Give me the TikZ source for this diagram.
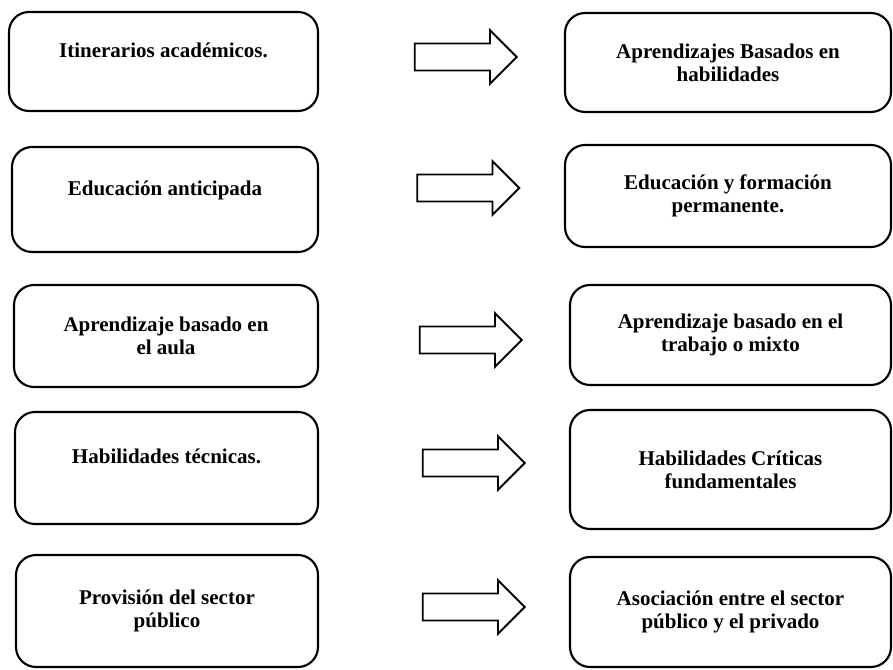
\documentclass[tikz,border=0pt]{standalone}
\usepackage{fontspec}
\setmainfont{Liberation Serif}
\usetikzlibrary{shapes.arrows}

\begin{document}
\begin{tikzpicture}[x=0.75pt,y=-0.75pt,
  box/.style={rectangle,rounded corners=15pt,draw,line width=1.6pt,align=center,inner sep=0pt,font=\fontsize{15.75pt}{17.25pt}\selectfont\bfseries},
  blockarrow/.style={single arrow,draw,line width=1.4pt,inner xsep=0pt,inner ysep=9.4pt,minimum height=76.5pt,single arrow head extend=10pt}]
  \useasboundingbox (0,0) rectangle (893,670);

  % left column
  \node[box,minimum width=231.75pt,minimum height=74.25pt] (iti) at (163.5,61.5) {Itinerarios académicos.\\ \mbox{}};
  \node[box,minimum width=229.5pt,minimum height=78.75pt] (edant) at (165,199.5) {Educación anticipada\\ \mbox{}};
  \node[box,minimum width=228pt,minimum height=76.5pt] (aula) at (166,336) {Aprendizaje basado en\\el aula};
  \node[box,minimum width=227.25pt,minimum height=84pt] (tec) at (166.5,468) {Habilidades técnicas.\\ \mbox{}};
  \node[box,minimum width=226.5pt,minimum height=84pt] (pub) at (167,611) {Provisión del sector\\público};

  % right column
  \node[box,minimum width=244.5pt,minimum height=74.25pt] (hab) at (728,62.5) {Aprendizajes Basados en\\habilidades};
  \node[box,minimum width=244.5pt,minimum height=76.5pt] (perm) at (728,196) {Educación y formación\\permanente.};
  \node[box,minimum width=240.75pt,minimum height=75pt] (mixto) at (730.5,335) {Aprendizaje basado en el\\trabajo o mixto};
  \node[box,minimum width=240.75pt,minimum height=89.25pt] (crit) at (730.5,469.5) {Habilidades Críticas\\fundamentales};
  \node[box,minimum width=240.75pt,minimum height=82.5pt] (priv) at (730.5,612) {Asociación entre el sector\\público y el privado};

  % block arrows
  \node[blockarrow] (a1) at (459,57) {};
  \node[blockarrow] (a2) at (461.5,188) {};
  \node[blockarrow] (a3) at (464,340) {};
  \node[blockarrow] (a4) at (467,463) {};
  \node[blockarrow] (a5) at (467,607) {};
\end{tikzpicture}
\end{document}
